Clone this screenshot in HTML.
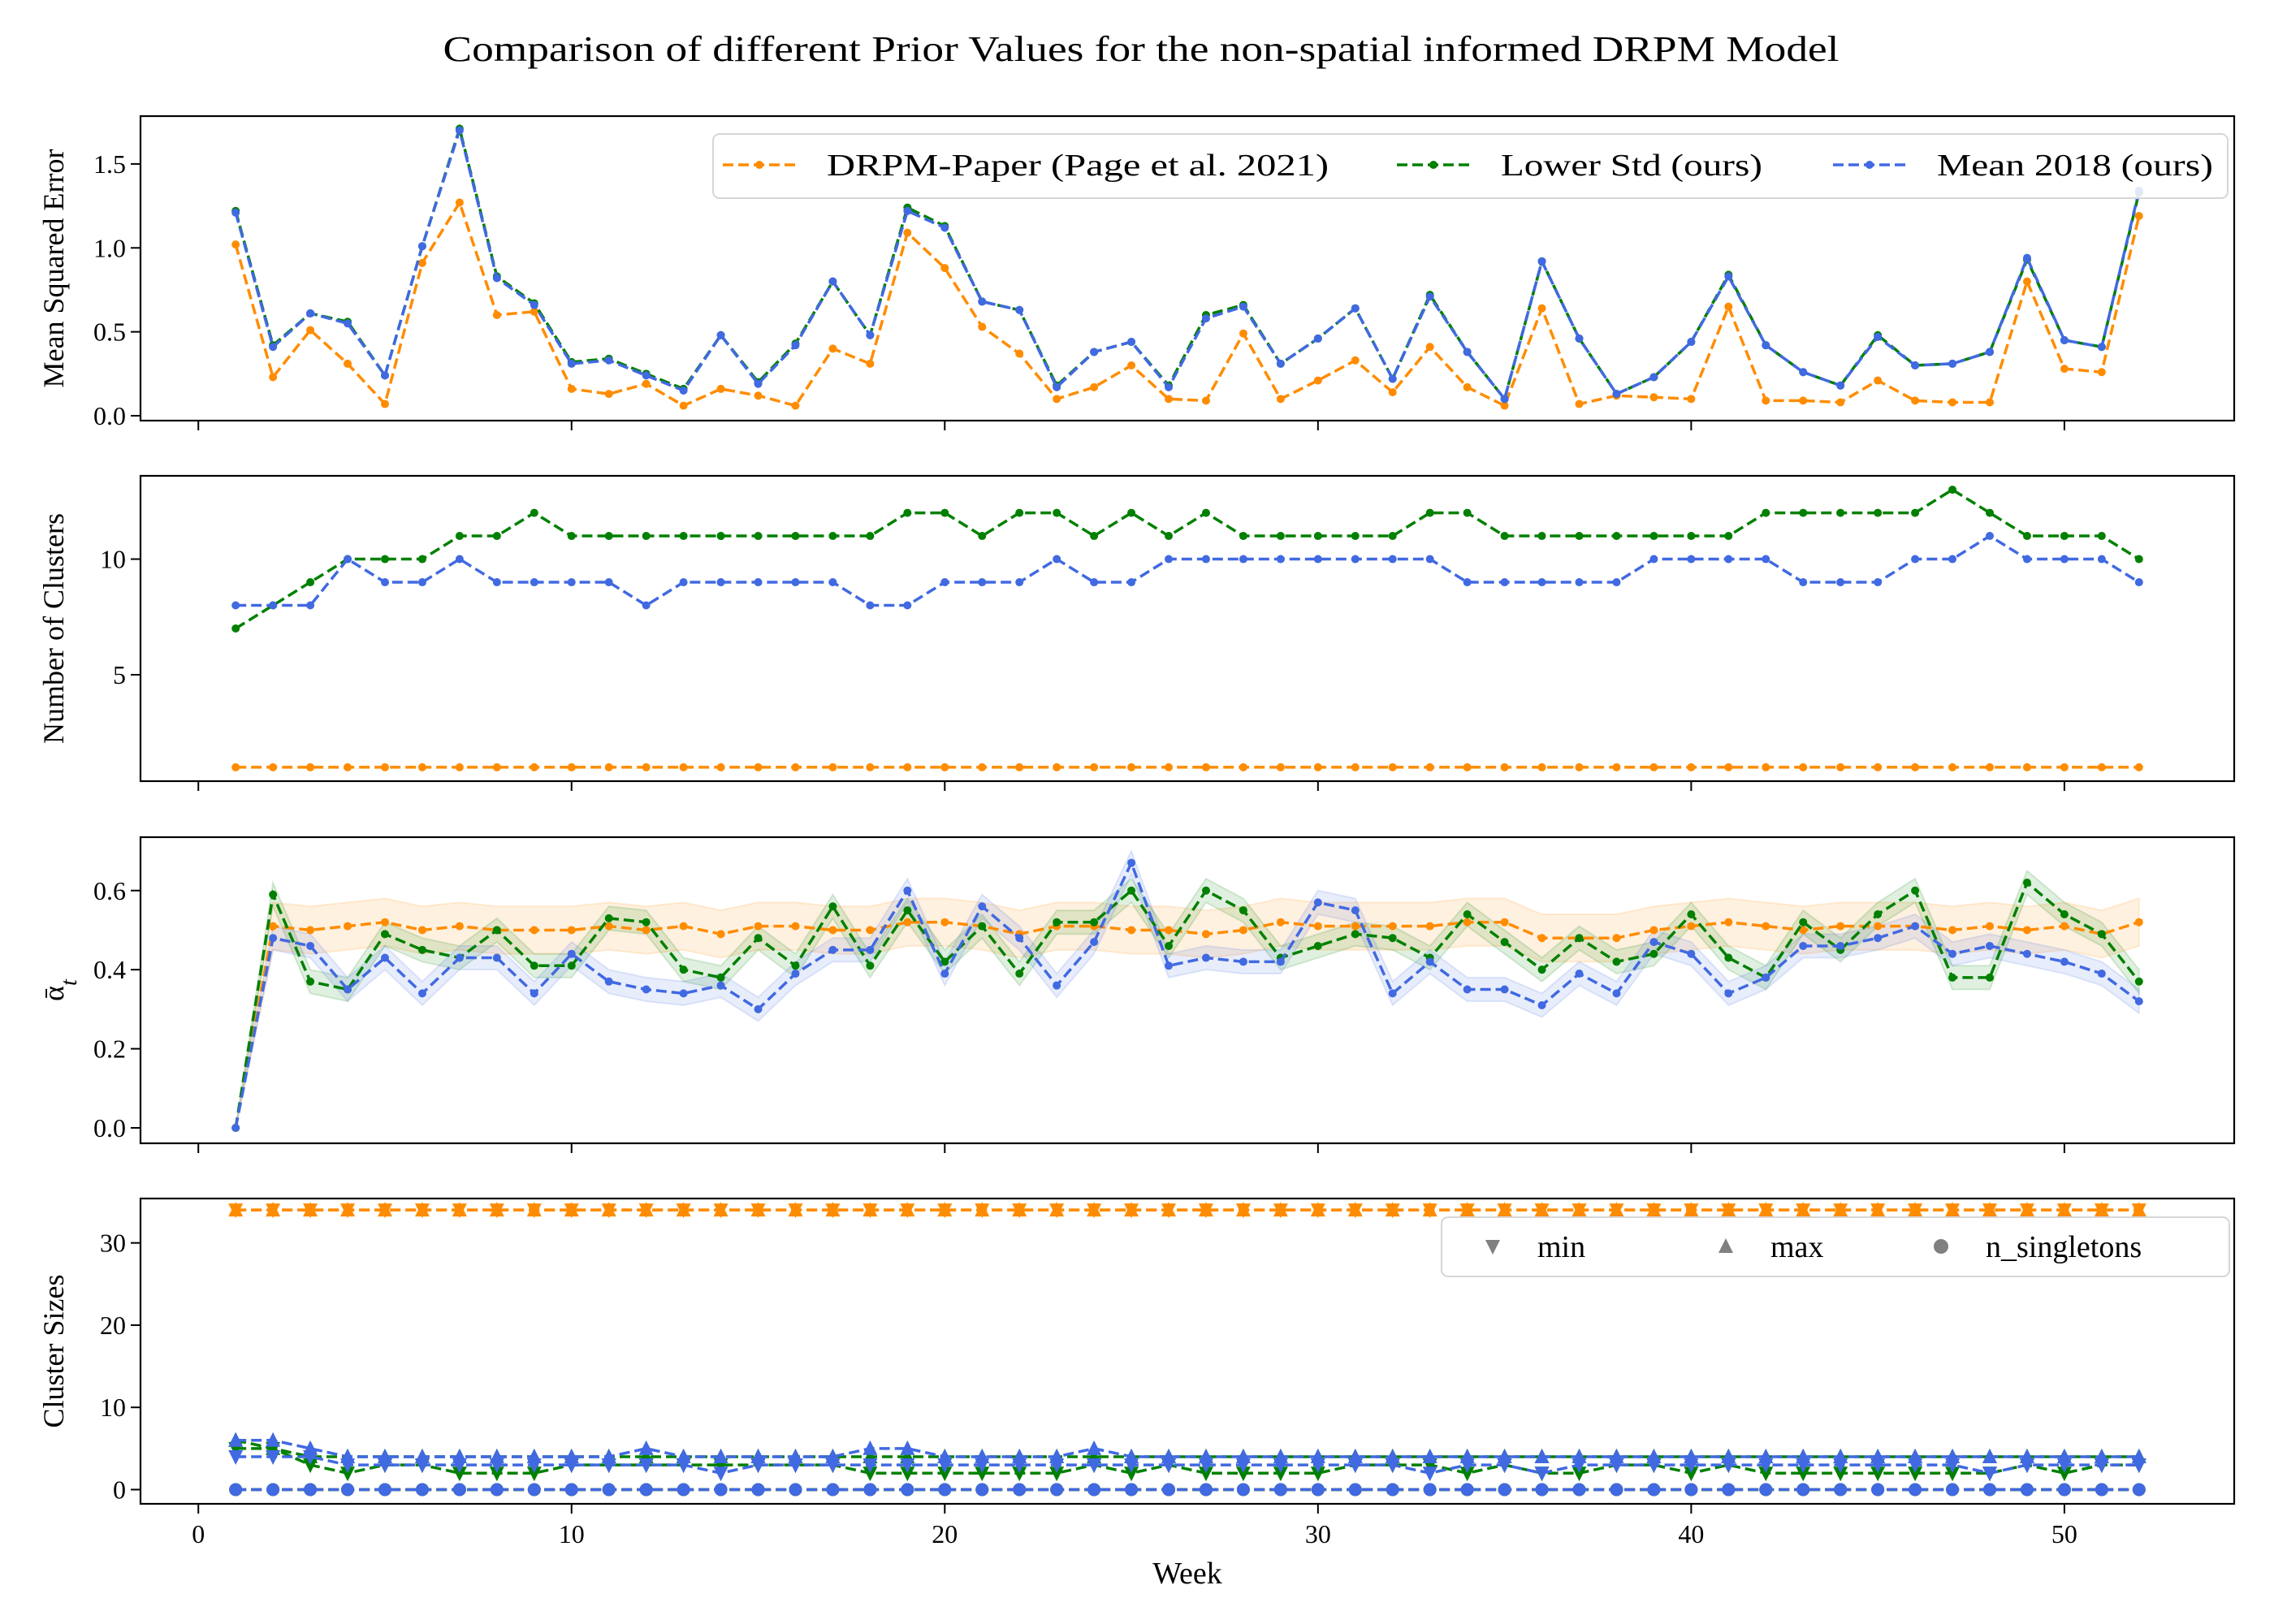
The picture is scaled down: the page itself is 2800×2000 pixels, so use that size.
<!DOCTYPE html>
<html><head><meta charset="utf-8"><style>
html,body{margin:0;padding:0;background:#fff;}
svg{display:block;font-family:"Liberation Serif","DejaVu Serif",serif;}
</style></head><body>
<svg id="chart" width="2800" height="2000" viewBox="0 0 2800 2000" xmlns="http://www.w3.org/2000/svg">
<rect width="2800" height="2000" fill="#fff"/>
<text x="1405" y="75" font-size="44" text-anchor="middle" textLength="1719" lengthAdjust="spacingAndGlyphs">Comparison of different Prior Values for the non-spatial informed DRPM Model</text>
<g id="plots"></g>
</svg>
<script>
const weeks = Array.from({length:52},(_, i)=>i+1);
const mseOrange = [1.02,0.23,0.51,0.31,0.07,0.91,1.27,0.60,0.62,0.16,0.13,0.19,0.06,0.16,0.12,0.06,0.40,0.31,1.09,0.88,0.53,0.37,0.10,0.17,0.30,0.10,0.09,0.49,0.10,0.21,0.33,0.14,0.41,0.17,0.06,0.64,0.07,0.12,0.11,0.10,0.65,0.09,0.09,0.08,0.21,0.09,0.08,0.08,0.80,0.28,0.26,1.19];
const mseGreen = [1.22,0.42,0.61,0.56,0.24,1.01,1.71,0.83,0.67,0.32,0.34,0.25,0.16,0.48,0.20,0.43,0.80,0.48,1.24,1.13,0.68,0.63,0.18,0.38,0.44,0.18,0.60,0.66,0.31,0.46,0.64,0.22,0.72,0.38,0.10,0.92,0.46,0.13,0.23,0.44,0.84,0.42,0.26,0.18,0.48,0.30,0.31,0.38,0.93,0.45,0.41,1.33];
const mseBlue = [1.21,0.41,0.61,0.55,0.24,1.01,1.70,0.82,0.66,0.31,0.33,0.24,0.15,0.48,0.19,0.42,0.80,0.48,1.22,1.12,0.68,0.63,0.17,0.38,0.44,0.17,0.58,0.65,0.31,0.46,0.64,0.22,0.71,0.38,0.10,0.92,0.46,0.13,0.23,0.44,0.83,0.42,0.26,0.18,0.47,0.30,0.31,0.38,0.94,0.45,0.41,1.34];
const nclOrange = Array(52).fill(1);
const nclGreen = [7,8,9,10,10,10,11,11,12,11,11,11,11,11,11,11,11,11,12,12,11,12,12,11,12,11,12,11,11,11,11,11,12,12,11,11,11,11,11,11,11,12,12,12,12,12,13,12,11,11,11,10];
const nclBlue = [8,8,8,10,9,9,10,9,9,9,9,8,9,9,9,9,9,8,8,9,9,9,10,9,9,10,10,10,10,10,10,10,10,9,9,9,9,9,10,10,10,10,9,9,9,10,10,11,10,10,10,9];
const alphaOrange = [0,0.51,0.50,0.51,0.52,0.50,0.51,0.50,0.50,0.50,0.51,0.50,0.51,0.49,0.51,0.51,0.50,0.50,0.52,0.52,0.51,0.49,0.51,0.51,0.50,0.50,0.49,0.50,0.52,0.51,0.51,0.51,0.51,0.52,0.52,0.48,0.48,0.48,0.50,0.51,0.52,0.51,0.50,0.51,0.51,0.51,0.50,0.51,0.50,0.51,0.49,0.52];
const alphaGreen = [0,0.59,0.37,0.35,0.49,0.45,0.43,0.50,0.41,0.41,0.53,0.52,0.40,0.38,0.48,0.41,0.56,0.41,0.55,0.42,0.51,0.39,0.52,0.52,0.60,0.46,0.60,0.55,0.43,0.46,0.49,0.48,0.43,0.54,0.47,0.40,0.48,0.42,0.44,0.54,0.43,0.38,0.52,0.45,0.54,0.60,0.38,0.38,0.62,0.54,0.49,0.37];
const alphaBlue = [0,0.48,0.46,0.35,0.43,0.34,0.43,0.43,0.34,0.44,0.37,0.35,0.34,0.36,0.30,0.39,0.45,0.45,0.60,0.39,0.56,0.48,0.36,0.47,0.67,0.41,0.43,0.42,0.42,0.57,0.55,0.34,0.42,0.35,0.35,0.31,0.39,0.34,0.47,0.44,0.34,0.38,0.46,0.46,0.48,0.51,0.44,0.46,0.44,0.42,0.39,0.32];
const alphaBandOrange = 0.06;
const alphaBandGreen = 0.03;
const alphaBandBlue = 0.03;
const maxOrange = Array(52).fill(34);
const minOrange = Array(52).fill(34);
const singOrange = Array(52).fill(0);
const maxGreen = [6,5,4,4,4,4,4,4,4,4,4,4,4,4,4,4,4,4,4,4,4,4,4,4,4,4,4,4,4,4,4,4,4,4,4,4,4,4,4,4,4,4,4,4,4,4,4,4,4,4,4,4];
const minGreen = [5,5,3,2,3,3,2,2,2,3,3,3,3,3,3,3,3,2,2,2,2,2,2,3,2,3,2,2,2,2,3,3,3,2,3,2,2,3,3,2,3,2,2,2,2,2,2,2,3,2,3,3];
const singGreen = Array(52).fill(0);
const maxBlue = [6,6,5,4,4,4,4,4,4,4,4,5,4,4,4,4,4,5,5,4,4,4,4,5,4,4,4,4,4,4,4,4,4,4,4,4,4,4,4,4,4,4,4,4,4,4,4,4,4,4,4,4];
const minBlue = [4,4,4,3,3,3,3,3,3,3,3,3,3,2,3,3,3,3,3,3,3,3,3,3,3,3,3,3,3,3,3,3,2,3,3,2,3,3,3,3,3,3,3,3,3,3,3,2,3,3,3,3];
const singBlue = Array(52).fill(0);
const xTicks = [0,10,20,30,40,50];
const yTicks1 = [0,0.5,1.0,1.5];
const yTickLabels1 = ["0.0","0.5","1.0","1.5"];
const yTicks2 = [5,10];
const yTicks3 = [0,0.2,0.4,0.6];
const yTickLabels3 = ["0.0","0.2","0.4","0.6"];
const yTicks4 = [0,10,20,30];

const NS="http://www.w3.org/2000/svg";
const OR="#ff8c00", GR="#008000", BL="#4169e1";
const L=173, R=2751;
const xmin=-1.55, xmax=54.55;
const X=v=>L+(v-xmin)/(xmax-xmin)*(R-L);
const root=document.getElementById('plots');
function mk(tag,attrs,parent){const e=document.createElementNS(NS,tag);for(const k in attrs)e.setAttribute(k,attrs[k]);(parent||root).appendChild(e);return e;}

function panel(name,top,bot,ymin,ymax,ticks,labels,title,showX){
  const g=mk('g',{});
  
  
  const Y=v=>bot-(v-ymin)/(ymax-ymin)*(bot-top);
  ticks.forEach((t,i)=>{
    const y=Y(t);
    mk('line',{x1:L-12,x2:L,y1:y,y2:y,stroke:'#000','stroke-width':2},g);
    const tx=mk('text',{x:L-18,y:y+11,'font-size':32,'text-anchor':'end'},g);
    tx.textContent=labels[i];
    
    
  });
  xTicks.forEach(t=>{
    const x=X(t);
    mk('line',{x1:x,x2:x,y1:bot,y2:bot+12,stroke:'#000','stroke-width':2},g);
    if(showX){const tx=mk('text',{x:x,y:bot+48,'font-size':32,'text-anchor':'middle'},g);tx.textContent=String(t);
      
      }
  });
  const yt=mk('text',{x:0,y:0,'font-size':36,'text-anchor':'middle',transform:`translate(78 ${(top+bot)/2}) rotate(-90)`},g);
  yt.innerHTML=title;
  
  
  const plot=mk('g',{},g);
  mk('rect',{x:L,y:top,width:R-L,height:bot-top,fill:'none',stroke:'#000','stroke-width':2.2},g);
  return {Y,plot,g};
}
function band(p,vals,w,color){
  let pts=[];
  weeks.forEach((wk,i)=>{const d=i===0?0:w;pts.push(X(wk)+','+p.Y(vals[i]+d));});
  for(let i=51;i>=0;i--){const d=i===0?0:w;pts.push(X(weeks[i])+','+p.Y(vals[i]-d));}
  const e=mk('polygon',{points:pts.join(' '),fill:color,'fill-opacity':0.12,stroke:color,'stroke-opacity':0.15,'stroke-width':2},p.plot);
  
  
}
function line(p,vals,color,name,marker,ms){
  const g=mk('g',{},p.plot);
  
  
  const pts=weeks.map((w,i)=>X(w)+','+p.Y(vals[i])).join(' ');
  mk('polyline',{points:pts,fill:'none',stroke:color,'stroke-width':3.5,'stroke-dasharray':'13,6'},g);
  weeks.forEach((w,i)=>{
    const x=X(w),y=p.Y(vals[i]);
    if(marker==='dot') mk('circle',{cx:x,cy:y,r:ms||5,fill:color},g);
    else if(marker==='down') mk('polygon',{points:`${x-9},${y-8} ${x+9},${y-8} ${x},${y+10}`,fill:color},g);
    else if(marker==='up') mk('polygon',{points:`${x-9},${y+8} ${x+9},${y+8} ${x},${y-10}`,fill:color},g);
  });
}

// Panel 1
const p1=panel('mse-panel',143,518,-0.029,1.785,yTicks1,yTickLabels1,'Mean Squared Error',false);
line(p1,mseOrange,OR,'mse-drpm-paper','dot');
line(p1,mseGreen,GR,'mse-lower-std','dot');
line(p1,mseBlue,BL,'mse-mean-2018','dot');
// legend 1
(function(){
  const lg=mk('g',{});
  
  
  mk('rect',{x:878,y:165,width:1865,height:79,rx:8,fill:'#fff','fill-opacity':0.85,stroke:'#d6d6d6','stroke-width':2},lg);
  const items=[[OR,'DRPM-Paper (Page et al. 2021)',890,618],[GR,'Lower Std (ours)',1720,322],[BL,'Mean 2018 (ours)',2257,340]];
  items.forEach(([c,t,x,w])=>{
    const e=mk('g',{},lg);
    
    
    mk('line',{x1:x,x2:x+90,y1:203,y2:203,stroke:c,'stroke-width':3.5,'stroke-dasharray':'13,6'},e);
    mk('circle',{cx:x+45,cy:203,r:5,fill:c},e);
    const tx=mk('text',{x:x+128,y:216,'font-size':38,textLength:w,lengthAdjust:'spacingAndGlyphs'},e);
    tx.textContent=t;
  });
})();

// Panel 2
const p2=panel('clusters-panel',586,962,0.4,13.6,yTicks2,['5','10'],'Number of Clusters',false);
line(p2,nclOrange,OR,'clusters-drpm-paper','dot');
line(p2,nclGreen,GR,'clusters-lower-std','dot');
line(p2,nclBlue,BL,'clusters-mean-2018','dot');

// Panel 3
const p3=panel('alpha-panel',1031,1408,-0.039,0.735,yTicks3,yTickLabels3,'ᾱ<tspan baseline-shift="sub" font-size="28" font-style="italic">t</tspan>',false);
band(p3,alphaOrange,alphaBandOrange,OR);
band(p3,alphaGreen,alphaBandGreen,GR);
band(p3,alphaBlue,alphaBandBlue,BL);
line(p3,alphaOrange,OR,'alpha-drpm-paper','dot');
line(p3,alphaGreen,GR,'alpha-lower-std','dot');
line(p3,alphaBlue,BL,'alpha-mean-2018','dot');

// Panel 4
const p4=panel('cluster-sizes-panel',1476,1852,-1.73,35.4,yTicks4,['0','10','20','30'],'Cluster Sizes',true);
[[OR,minOrange,maxOrange,singOrange,'drpm-paper'],[GR,minGreen,maxGreen,singGreen,'lower-std'],[BL,minBlue,maxBlue,singBlue,'mean-2018']].forEach(([c,mn,mx,sg,n])=>{
  line(p4,mn,c,'min-'+n,'down');
  line(p4,mx,c,'max-'+n,'up');
  line(p4,sg,c,'singletons-'+n,'dot',8);
});
(function(){
  const lg=mk('g',{});
  
  
  mk('rect',{x:1775,y:1499,width:970,height:73,rx:8,fill:'#fff','fill-opacity':0.85,stroke:'#d6d6d6','stroke-width':2},lg);
  const items=[['down','min',1838],['up','max',2125],['dot','n_singletons',2390]];
  items.forEach(([m,t,x])=>{
    const e=mk('g',{},lg);
    
    
    const y=1535;
    if(m==='down') mk('polygon',{points:`${x-9},${y-8} ${x+9},${y-8} ${x},${y+10}`,fill:'#808080'},e);
    else if(m==='up') mk('polygon',{points:`${x-9},${y+8} ${x+9},${y+8} ${x},${y-10}`,fill:'#808080'},e);
    else mk('circle',{cx:x,cy:y,r:9,fill:'#808080'},e);
    const tx=mk('text',{x:x+55,y:y+13,'font-size':38},e);
    tx.textContent=t;
  });
})();
const wl=mk('text',{x:1462,y:1950,'font-size':38,'text-anchor':'middle'});
wl.textContent='Week';


</script>
</body></html>
